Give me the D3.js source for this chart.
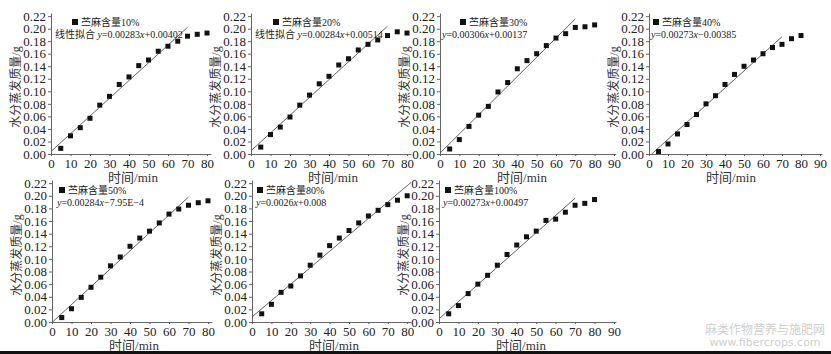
<!DOCTYPE html>
<html>
<head>
<meta charset="utf-8">
<title>水分蒸发质量</title>
<script src="https://cdn.jsdelivr.net/npm/d3@7/dist/d3.min.js"></script>
<style>
  body { margin: 0; background: #fff; }
  svg text { font-family: "Liberation Serif", "Noto Sans CJK SC", serif; fill: #222; }
  .axis path, .axis line { stroke: #555; stroke-width: 0.9; }
  .axis text { font-size: 13px; fill: #222; }
  .fit { fill: none; stroke: #555; stroke-width: 0.9; }
</style>
</head>
<body>
<div id="chart"></div>
<script>
// sampling times (min)
var times = [5, 10, 15, 20, 25, 30, 35, 40, 45, 50, 55, 60, 65, 70, 75, 80];

// evaporated water mass (g) per ramie content
var mass10  = [0.009, 0.029, 0.042, 0.057, 0.078, 0.092, 0.111, 0.123, 0.141, 0.150, 0.164, 0.172, 0.180, 0.188, 0.191, 0.193];
var mass20  = [0.011, 0.031, 0.043, 0.059, 0.078, 0.094, 0.112, 0.124, 0.142, 0.152, 0.166, 0.175, 0.182, 0.189, 0.195, 0.193];
var mass30  = [0.008, 0.023, 0.044, 0.062, 0.076, 0.099, 0.114, 0.136, 0.149, 0.160, 0.173, 0.185, 0.192, 0.202, 0.203, 0.206];
var mass40  = [0.004, 0.016, 0.032, 0.047, 0.063, 0.080, 0.093, 0.111, 0.127, 0.140, 0.150, 0.160, 0.170, 0.175, 0.184, 0.189];
var mass50  = [0.007, 0.021, 0.039, 0.055, 0.071, 0.089, 0.103, 0.120, 0.133, 0.144, 0.157, 0.171, 0.179, 0.185, 0.189, 0.192];
var mass80  = [0.013, 0.028, 0.047, 0.057, 0.073, 0.090, 0.106, 0.121, 0.133, 0.145, 0.157, 0.168, 0.177, 0.186, 0.193, 0.200];
var mass100 = [0.013, 0.026, 0.045, 0.060, 0.074, 0.090, 0.107, 0.122, 0.135, 0.144, 0.161, 0.163, 0.174, 0.185, 0.188, 0.194];

var contents = ["10%", "20%", "30%", "40%", "50%", "80%", "100%"];
var series = [mass10, mass20, mass30, mass40, mass50, mass80, mass100];

// linear fits
var fitSlope = [0.00283, 0.00284, 0.00306, 0.00273, 0.00284, 0.0026, 0.00273];
var fitIntercept = [0.00402, 0.00514, 0.00137, -0.00385, -0.000795, 0.008, 0.00497];
var fitEnd = [70, 70, 70, 70, 70, 82, 70];
var fitPrefix = ["线性拟合 ", "线性拟合 ", "", "", "", "", ""];
var fitText = ["y=0.00283x+0.00402", "y=0.00284x+0.00514", "y=0.00306x+0.00137", "y=0.00273x−0.00385",
               "y=0.00284x−7.95E−4", "y=0.0026x+0.008", "y=0.00273x+0.00497"];

var yTicks = [0, 0.02, 0.04, 0.06, 0.08, 0.10, 0.12, 0.14, 0.16, 0.18, 0.20, 0.22];
var xTicks80 = [0, 10, 20, 30, 40, 50, 60, 70, 80];
var xTicks90 = [0, 10, 20, 30, 40, 50, 60, 70, 80, 90];

var yTitle = "水分蒸发质量/g";
var xTitle = "时间/min";
var legendName = "苎麻含量";

// panel layout (pixels)
var rows = [{ y0: 154, yTop: 13, leg: 22, eq: 34 }, { y0: 322, yTop: 180, leg: 190, eq: 202 }];
var panels = [
  { left: 51,  unit: 1.95,  xMax: 82, row: 0, legDx: 24, eqDx: 4, ticks: xTicks80 },
  { left: 251, unit: 1.95,  xMax: 82, row: 0, legDx: 25, eqDx: 4, ticks: xTicks80 },
  { left: 440, unit: 1.933, xMax: 91, row: 0, legDx: 23, eqDx: 2, ticks: xTicks90 },
  { left: 649, unit: 1.9,   xMax: 91, row: 0, legDx: 7,  eqDx: 2, ticks: xTicks90 },
  { left: 52,  unit: 1.95,  xMax: 82, row: 1, legDx: 10, eqDx: 5, ticks: xTicks80 },
  { left: 252, unit: 1.94,  xMax: 82, row: 1, legDx: 8,  eqDx: 4, ticks: xTicks80 },
  { left: 439, unit: 1.944, xMax: 91, row: 1, legDx: 9,  eqDx: 4, ticks: xTicks90 }
];

var svg = d3.select("#chart").append("svg")
    .attr("width", 831)
    .attr("height", 354);

panels.forEach(function(p, i) {
  var r = rows[p.row];
  var x = d3.scaleLinear().domain([0, p.xMax]).range([p.left, p.left + p.xMax * p.unit]);
  var y = d3.scaleLinear().domain([0, 0.225]).range([r.y0, r.yTop]);
  var g = svg.append("g");

  g.append("g")
      .attr("class", "axis")
      .attr("transform", "translate(0," + r.y0 + ")")
      .call(d3.axisBottom(x).tickValues(p.ticks).tickSize(2).tickSizeOuter(0).tickPadding(3));

  g.append("g")
      .attr("class", "axis")
      .attr("transform", "translate(" + p.left + ",0)")
      .call(d3.axisLeft(y).tickValues(yTicks).tickFormat(d3.format(".2f")).tickSize(3).tickSizeOuter(0).tickPadding(2));

  g.selectAll(".domain").attr("stroke", "#555");

  // fitted line
  var x1 = Math.max(0, -fitIntercept[i] / fitSlope[i]);
  var fitPts = [x1, fitEnd[i]].map(function(t) { return [t, fitSlope[i] * t + fitIntercept[i]]; });
  g.append("path")
      .datum(fitPts)
      .attr("class", "fit")
      .attr("d", d3.line().x(function(d) { return x(d[0]); }).y(function(d) { return y(d[1]); }));

  // points
  g.selectAll("rect.pt")
      .data(series[i])
      .enter().append("rect")
      .attr("class", "pt")
      .attr("x", function(d, j) { return x(times[j]) - 2.5; })
      .attr("y", function(d) { return y(d) - 2.5; })
      .attr("width", 5)
      .attr("height", 5)
      .attr("fill", "#111");

  // legend
  g.append("rect")
      .attr("x", p.left + p.legDx - 3)
      .attr("y", r.leg - 3)
      .attr("width", 6)
      .attr("height", 6)
      .attr("fill", "#111");
  g.append("text")
      .attr("x", p.left + p.legDx + 6)
      .attr("y", r.leg + 3.5)
      .style("font-size", "10px")
      .text(legendName + contents[i]);

  var eq = g.append("text")
      .attr("x", p.left + p.eqDx)
      .attr("y", r.eq + 3.5)
      .style("font-size", "10px");
  if (fitPrefix[i]) eq.append("tspan").text(fitPrefix[i]);
  fitText[i].split(/([xy])/).forEach(function(s) {
    if (!s) return;
    var t = eq.append("tspan").text(s);
    if (s === "x" || s === "y") t.style("font-style", "italic");
  });

  // axis titles
  g.append("text")
      .attr("transform", "translate(" + (p.left - 35) + "," + (r.y0 - 67) + ") rotate(-90)")
      .attr("text-anchor", "middle")
      .attr("dy", "0.35em")
      .style("font-size", "12px")
      .style("fill", "#333")
      .text(yTitle);

  g.append("text")
      .attr("x", p.left + 82)
      .attr("y", r.y0 + 23)
      .attr("text-anchor", "middle")
      .attr("dy", "0.35em")
      .style("font-size", "13px")
      .style("fill", "#333")
      .text(xTitle);
});

// watermark and bottom border
svg.append("text")
    .attr("x", 765).attr("y", 334)
    .attr("text-anchor", "middle")
    .style("font-family", "Noto Sans CJK SC")
    .style("font-size", "12px")
    .style("fill", "#cfcfcf")
    .text("麻类作物营养与施肥网");
svg.append("text")
    .attr("x", 765).attr("y", 346)
    .attr("text-anchor", "middle")
    .style("font-family", "DejaVu Sans")
    .style("font-size", "11px")
    .style("fill", "#cfcfcf")
    .text("www.fibercrops.com");
svg.append("rect")
    .attr("x", 0).attr("y", 351)
    .attr("width", 831).attr("height", 3)
    .attr("fill", "#111");
</script>
</body>
</html>
